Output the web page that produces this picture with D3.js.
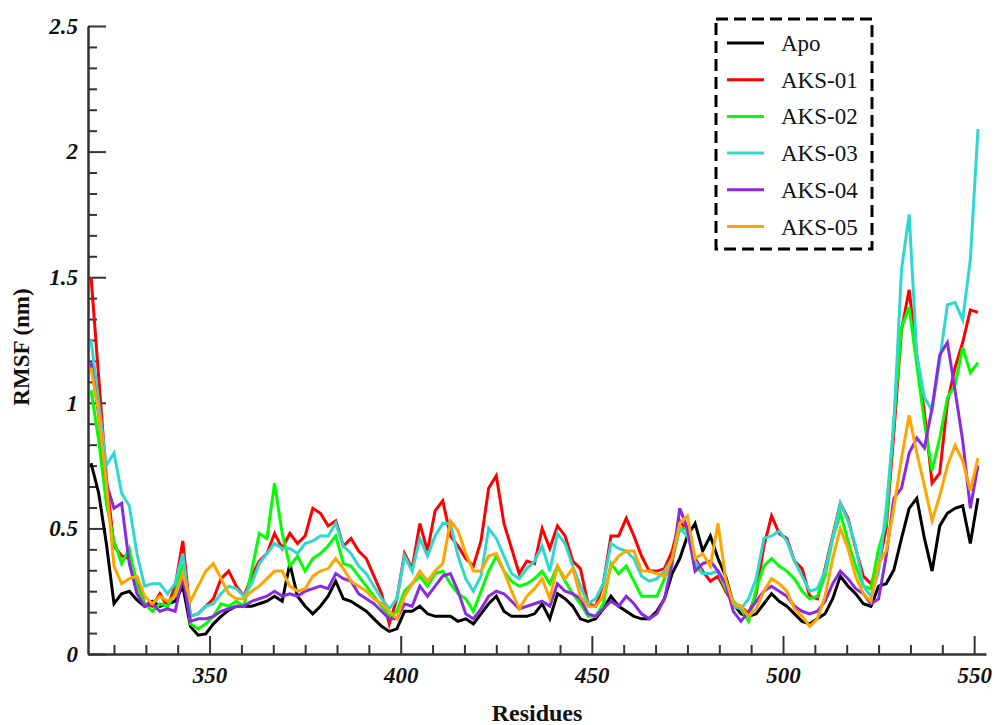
<!DOCTYPE html>
<html>
<head>
<meta charset="utf-8">
<script src="https://cdnjs.cloudflare.com/ajax/libs/d3/7.8.5/d3.min.js"></script>
<style>
  body { margin: 0; background: #fff; }
  svg { display: block; }
  svg text { font-family: "Liberation Serif", "DejaVu Serif", serif; }
</style>
</head>
<body>
<div id="vis"></div>
<script>
// residue numbers, every second residue
const residues = d3.range(319, 552, 2);

const apo = [
  0.76, 0.64, 0.44, 0.20, 0.24, 0.25, 0.215, 0.19, 0.21, 0.19, 0.20, 0.21, 0.27, 0.11, 0.075, 0.08, 0.12, 0.15, 0.175, 0.19,
  0.19, 0.19, 0.20, 0.21, 0.23, 0.21, 0.36, 0.23, 0.19, 0.16, 0.19, 0.23, 0.29, 0.22, 0.21, 0.19, 0.17, 0.14, 0.11, 0.09,
  0.10, 0.17, 0.17, 0.19, 0.16, 0.15, 0.15, 0.15, 0.13, 0.14, 0.12, 0.16, 0.20, 0.23, 0.17, 0.15, 0.15, 0.15, 0.16, 0.20, 0.14,
  0.24, 0.22, 0.19, 0.14, 0.13, 0.14, 0.18, 0.23, 0.19, 0.17, 0.15, 0.14, 0.14, 0.17, 0.22, 0.32, 0.38, 0.47, 0.52, 0.41,
  0.47, 0.38, 0.31, 0.20, 0.16, 0.15, 0.16, 0.20, 0.24, 0.21, 0.19, 0.16, 0.13, 0.12, 0.14, 0.16, 0.22, 0.31, 0.27, 0.24,
  0.20, 0.19, 0.27, 0.28, 0.335, 0.46, 0.58, 0.62, 0.46, 0.33, 0.51, 0.56, 0.58, 0.59, 0.44, 0.62
];
const aks01 = [
  1.50, 1.10, 0.70, 0.43, 0.39, 0.38, 0.29, 0.20, 0.19, 0.24, 0.19, 0.27, 0.45, 0.15, 0.16, 0.19, 0.22, 0.30, 0.33, 0.27,
  0.23, 0.31, 0.37, 0.40, 0.48, 0.42, 0.48, 0.44, 0.47, 0.58, 0.56, 0.51, 0.53, 0.43, 0.46, 0.41, 0.38, 0.31, 0.24, 0.12,
  0.22, 0.40, 0.34, 0.52, 0.41, 0.57, 0.61, 0.47, 0.43, 0.38, 0.35, 0.45, 0.66, 0.71, 0.52, 0.42, 0.32, 0.37, 0.36, 0.50, 0.42,
  0.51, 0.47, 0.37, 0.34, 0.20, 0.19, 0.28, 0.47, 0.47, 0.54, 0.47, 0.39, 0.33, 0.33, 0.34, 0.41, 0.53, 0.49, 0.38, 0.33,
  0.29, 0.31, 0.25, 0.20, 0.19, 0.16, 0.24, 0.43, 0.55, 0.48, 0.46, 0.37, 0.34, 0.23, 0.22, 0.34, 0.47, 0.60, 0.54, 0.42,
  0.31, 0.28, 0.35, 0.50, 0.88, 1.29, 1.45, 1.19, 0.96, 0.68, 0.72, 1.00, 1.14, 1.24, 1.37, 1.36
];
const aks02 = [
  1.05, 0.85, 0.60, 0.45, 0.36, 0.42, 0.27, 0.20, 0.17, 0.20, 0.19, 0.24, 0.36, 0.12, 0.10, 0.12, 0.15, 0.20, 0.19, 0.21,
  0.19, 0.33, 0.48, 0.46, 0.68, 0.48, 0.35, 0.39, 0.33, 0.38, 0.40, 0.43, 0.47, 0.36, 0.35, 0.31, 0.27, 0.23, 0.19, 0.15,
  0.17, 0.25, 0.28, 0.31, 0.27, 0.32, 0.33, 0.28, 0.24, 0.22, 0.17, 0.25, 0.33, 0.39, 0.33, 0.29, 0.27, 0.28, 0.30, 0.33, 0.28,
  0.35, 0.29, 0.24, 0.20, 0.15, 0.15, 0.20, 0.36, 0.32, 0.35, 0.29, 0.23, 0.23, 0.23, 0.30, 0.37, 0.50, 0.50, 0.35, 0.32,
  0.32, 0.33, 0.26, 0.21, 0.18, 0.13, 0.26, 0.35, 0.38, 0.35, 0.33, 0.30, 0.25, 0.22, 0.23, 0.31, 0.46, 0.56, 0.45, 0.35,
  0.27, 0.26, 0.42, 0.52, 0.93, 1.30, 1.38, 1.15, 0.92, 0.73, 0.86, 1.02, 1.07, 1.22, 1.12, 1.16
];
const aks03 = [
  1.25, 1.00, 0.75, 0.80, 0.64, 0.59, 0.40, 0.27, 0.28, 0.28, 0.24, 0.28, 0.40, 0.15, 0.16, 0.19, 0.20, 0.24, 0.27, 0.26,
  0.23, 0.28, 0.36, 0.40, 0.44, 0.42, 0.42, 0.40, 0.44, 0.45, 0.47, 0.47, 0.52, 0.43, 0.40, 0.35, 0.32, 0.27, 0.22, 0.18,
  0.22, 0.39, 0.33, 0.46, 0.39, 0.47, 0.52, 0.52, 0.39, 0.30, 0.25, 0.31, 0.50, 0.46, 0.39, 0.32, 0.30, 0.34, 0.37, 0.43, 0.33,
  0.48, 0.44, 0.35, 0.27, 0.20, 0.22, 0.28, 0.44, 0.42, 0.41, 0.38, 0.31, 0.29, 0.30, 0.33, 0.38, 0.50, 0.47, 0.37, 0.32,
  0.32, 0.33, 0.27, 0.19, 0.18, 0.22, 0.30, 0.46, 0.47, 0.49, 0.45, 0.37, 0.31, 0.25, 0.26, 0.33, 0.46, 0.60, 0.53, 0.43,
  0.27, 0.23, 0.33, 0.58, 0.92, 1.53, 1.75, 1.19, 1.02, 0.97, 1.17, 1.39, 1.40, 1.33, 1.57, 2.09
];
const aks04 = [
  1.16, 0.95, 0.68, 0.58, 0.60, 0.36, 0.24, 0.19, 0.20, 0.17, 0.18, 0.17, 0.31, 0.13, 0.14, 0.14, 0.15, 0.17, 0.18, 0.19,
  0.19, 0.21, 0.22, 0.23, 0.25, 0.23, 0.24, 0.23, 0.25, 0.26, 0.27, 0.26, 0.32, 0.30, 0.29, 0.24, 0.22, 0.20, 0.17, 0.14,
  0.14, 0.20, 0.19, 0.27, 0.23, 0.27, 0.31, 0.32, 0.25, 0.16, 0.14, 0.18, 0.23, 0.25, 0.24, 0.21, 0.18, 0.19, 0.20, 0.21, 0.19,
  0.28, 0.25, 0.24, 0.22, 0.16, 0.15, 0.18, 0.21, 0.19, 0.23, 0.20, 0.16, 0.14, 0.16, 0.22, 0.36, 0.58, 0.50, 0.33, 0.36,
  0.37, 0.33, 0.28, 0.17, 0.13, 0.17, 0.21, 0.25, 0.27, 0.25, 0.23, 0.19, 0.17, 0.16, 0.17, 0.21, 0.28, 0.33, 0.30, 0.26,
  0.24, 0.20, 0.22, 0.39, 0.62, 0.66, 0.80, 0.86, 0.82, 0.98, 1.19, 1.24, 1.05, 0.85, 0.58, 0.75
];
const aks05 = [
  1.14, 0.96, 0.68, 0.35, 0.28, 0.30, 0.31, 0.23, 0.20, 0.23, 0.21, 0.23, 0.32, 0.21, 0.27, 0.33, 0.36, 0.30, 0.24, 0.22,
  0.22, 0.25, 0.27, 0.30, 0.33, 0.33, 0.27, 0.25, 0.26, 0.31, 0.33, 0.34, 0.38, 0.34, 0.29, 0.27, 0.25, 0.22, 0.20, 0.17,
  0.14, 0.23, 0.28, 0.33, 0.29, 0.33, 0.36, 0.53, 0.49, 0.40, 0.33, 0.33, 0.39, 0.40, 0.33, 0.25, 0.18, 0.23, 0.26, 0.30, 0.22,
  0.35, 0.30, 0.34, 0.23, 0.19, 0.19, 0.23, 0.35, 0.39, 0.41, 0.41, 0.33, 0.33, 0.32, 0.31, 0.38, 0.52, 0.55, 0.38, 0.40,
  0.35, 0.52, 0.30, 0.20, 0.19, 0.15, 0.18, 0.25, 0.30, 0.28, 0.25, 0.18, 0.15, 0.11, 0.14, 0.23, 0.38, 0.50, 0.42, 0.31,
  0.24, 0.21, 0.36, 0.41, 0.58, 0.78, 0.95, 0.80, 0.67, 0.53, 0.63, 0.75, 0.83, 0.77, 0.65, 0.78
];

const seriesNames = ["Apo", "AKS-01", "AKS-02", "AKS-03", "AKS-04", "AKS-05"];
const seriesValues = [apo, aks01, aks02, aks03, aks04, aks05];
const seriesColors = ["#000000", "#ff0000", "#00ff00", "#2ed8d0", "#8a2be2", "#ffa500"];

const xMajor = [350, 400, 450, 500, 550];
const yMajor = [0, 0.5, 1, 1.5, 2, 2.5];

const WIDTH = 995;
const HEIGHT = 725;
const MARGIN = { LEFT: 88, RIGHT: 9, TOP: 26, BOTTOM: 71 };

const svg = d3
  .select("#vis")
  .append("svg")
  .attr("width", WIDTH)
  .attr("height", HEIGHT);

svg.append("rect").attr("width", WIDTH).attr("height", HEIGHT).attr("fill", "#fff");

const xScale = d3
  .scaleLinear()
  .domain([318.2, 553.1])
  .range([MARGIN.LEFT, WIDTH - MARGIN.RIGHT]);

const yScale = d3
  .scaleLinear()
  .domain([0, 2.5])
  .range([HEIGHT - MARGIN.BOTTOM, MARGIN.TOP]);

// six minor intervals per major step
const xMinor = d3.range(-3, 25)
  .filter((i) => i % 6 !== 0)
  .map((i) => 350 + (i * 50) / 6)
  .filter((v) => v <= 553);
const yMinor = d3.range(1, 30)
  .filter((i) => i % 6 !== 0)
  .map((i) => (i * 0.5) / 6);

const axisColor = "#333";

// minor ticks
svg
  .append("g")
  .attr("transform", `translate(0, ${yScale(0)})`)
  .call(d3.axisBottom(xScale).tickValues(xMinor).tickSize(-9).tickSizeOuter(0).tickFormat(""))
  .call((g) => g.select(".domain").remove());

svg
  .append("g")
  .attr("transform", `translate(${MARGIN.LEFT}, 0)`)
  .call(d3.axisLeft(yScale).tickValues(yMinor).tickSize(-9).tickSizeOuter(0).tickFormat(""))
  .call((g) => g.select(".domain").remove());

// major ticks + labels
svg
  .append("g")
  .attr("transform", `translate(0, ${yScale(0)})`)
  .call(d3.axisBottom(xScale).tickValues(xMajor).tickSize(-18).tickSizeOuter(0).tickPadding(13).tickFormat(d3.format("d")));

svg
  .append("g")
  .attr("transform", `translate(${MARGIN.LEFT}, 0)`)
  .call(d3.axisLeft(yScale).tickValues(yMajor).tickSize(-18).tickSizeOuter(0).tickPadding(10).tickFormat((d) => d));

svg.selectAll(".tick line").attr("stroke", axisColor).attr("stroke-width", 2);
svg.selectAll(".domain").attr("stroke", axisColor).attr("stroke-width", 2.5);
svg
  .selectAll(".tick text")
  .attr("font-family", null)
  .style("font-weight", "bold")
  .style("font-style", "italic")
  .style("font-size", "23px")
  .attr("fill", "#111");

// lines
const line = d3
  .line()
  .x((d) => xScale(d[0]))
  .y((d) => yScale(d[1]));

svg
  .append("g")
  .selectAll("path")
  .data(seriesValues)
  .enter()
  .append("path")
  .attr("d", (vals) => line(vals.map((v, i) => [residues[i], v])))
  .attr("fill", "none")
  .attr("stroke", (d, i) => seriesColors[i])
  .attr("stroke-width", 3)
  .attr("stroke-linejoin", "miter");

// axis titles
svg
  .append("text")
  .attr("x", 537)
  .attr("y", 721)
  .attr("text-anchor", "middle")
  .style("font-weight", "bold")
  .style("font-size", "24px")
  .attr("fill", "#111")
  .text("Residues");

svg
  .append("text")
  .attr("transform", "translate(29, 347) rotate(-90)")
  .attr("text-anchor", "middle")
  .style("font-weight", "bold")
  .style("font-size", "23px")
  .attr("fill", "#111")
  .text("RMSF (nm)");

// legend
const legend = svg.append("g");
legend
  .append("rect")
  .attr("x", 716)
  .attr("y", 19)
  .attr("width", 156)
  .attr("height", 230)
  .attr("fill", "#fff")
  .attr("stroke", "#000")
  .attr("stroke-width", 3)
  .attr("stroke-dasharray", "12,6");

const items = legend
  .selectAll("g.item")
  .data(seriesNames)
  .enter()
  .append("g")
  .attr("class", "item")
  .attr("transform", (d, i) => `translate(0, ${43 + i * 36.7})`);

items
  .append("line")
  .attr("x1", 727)
  .attr("x2", 764)
  .attr("stroke", (d, i) => seriesColors[i])
  .attr("stroke-width", 3);

items
  .append("text")
  .attr("x", 781)
  .attr("dy", "0.35em")
  .style("font-size", "23px")
  .attr("fill", "#111")
  .text((d) => d);
</script>
</body>
</html>
